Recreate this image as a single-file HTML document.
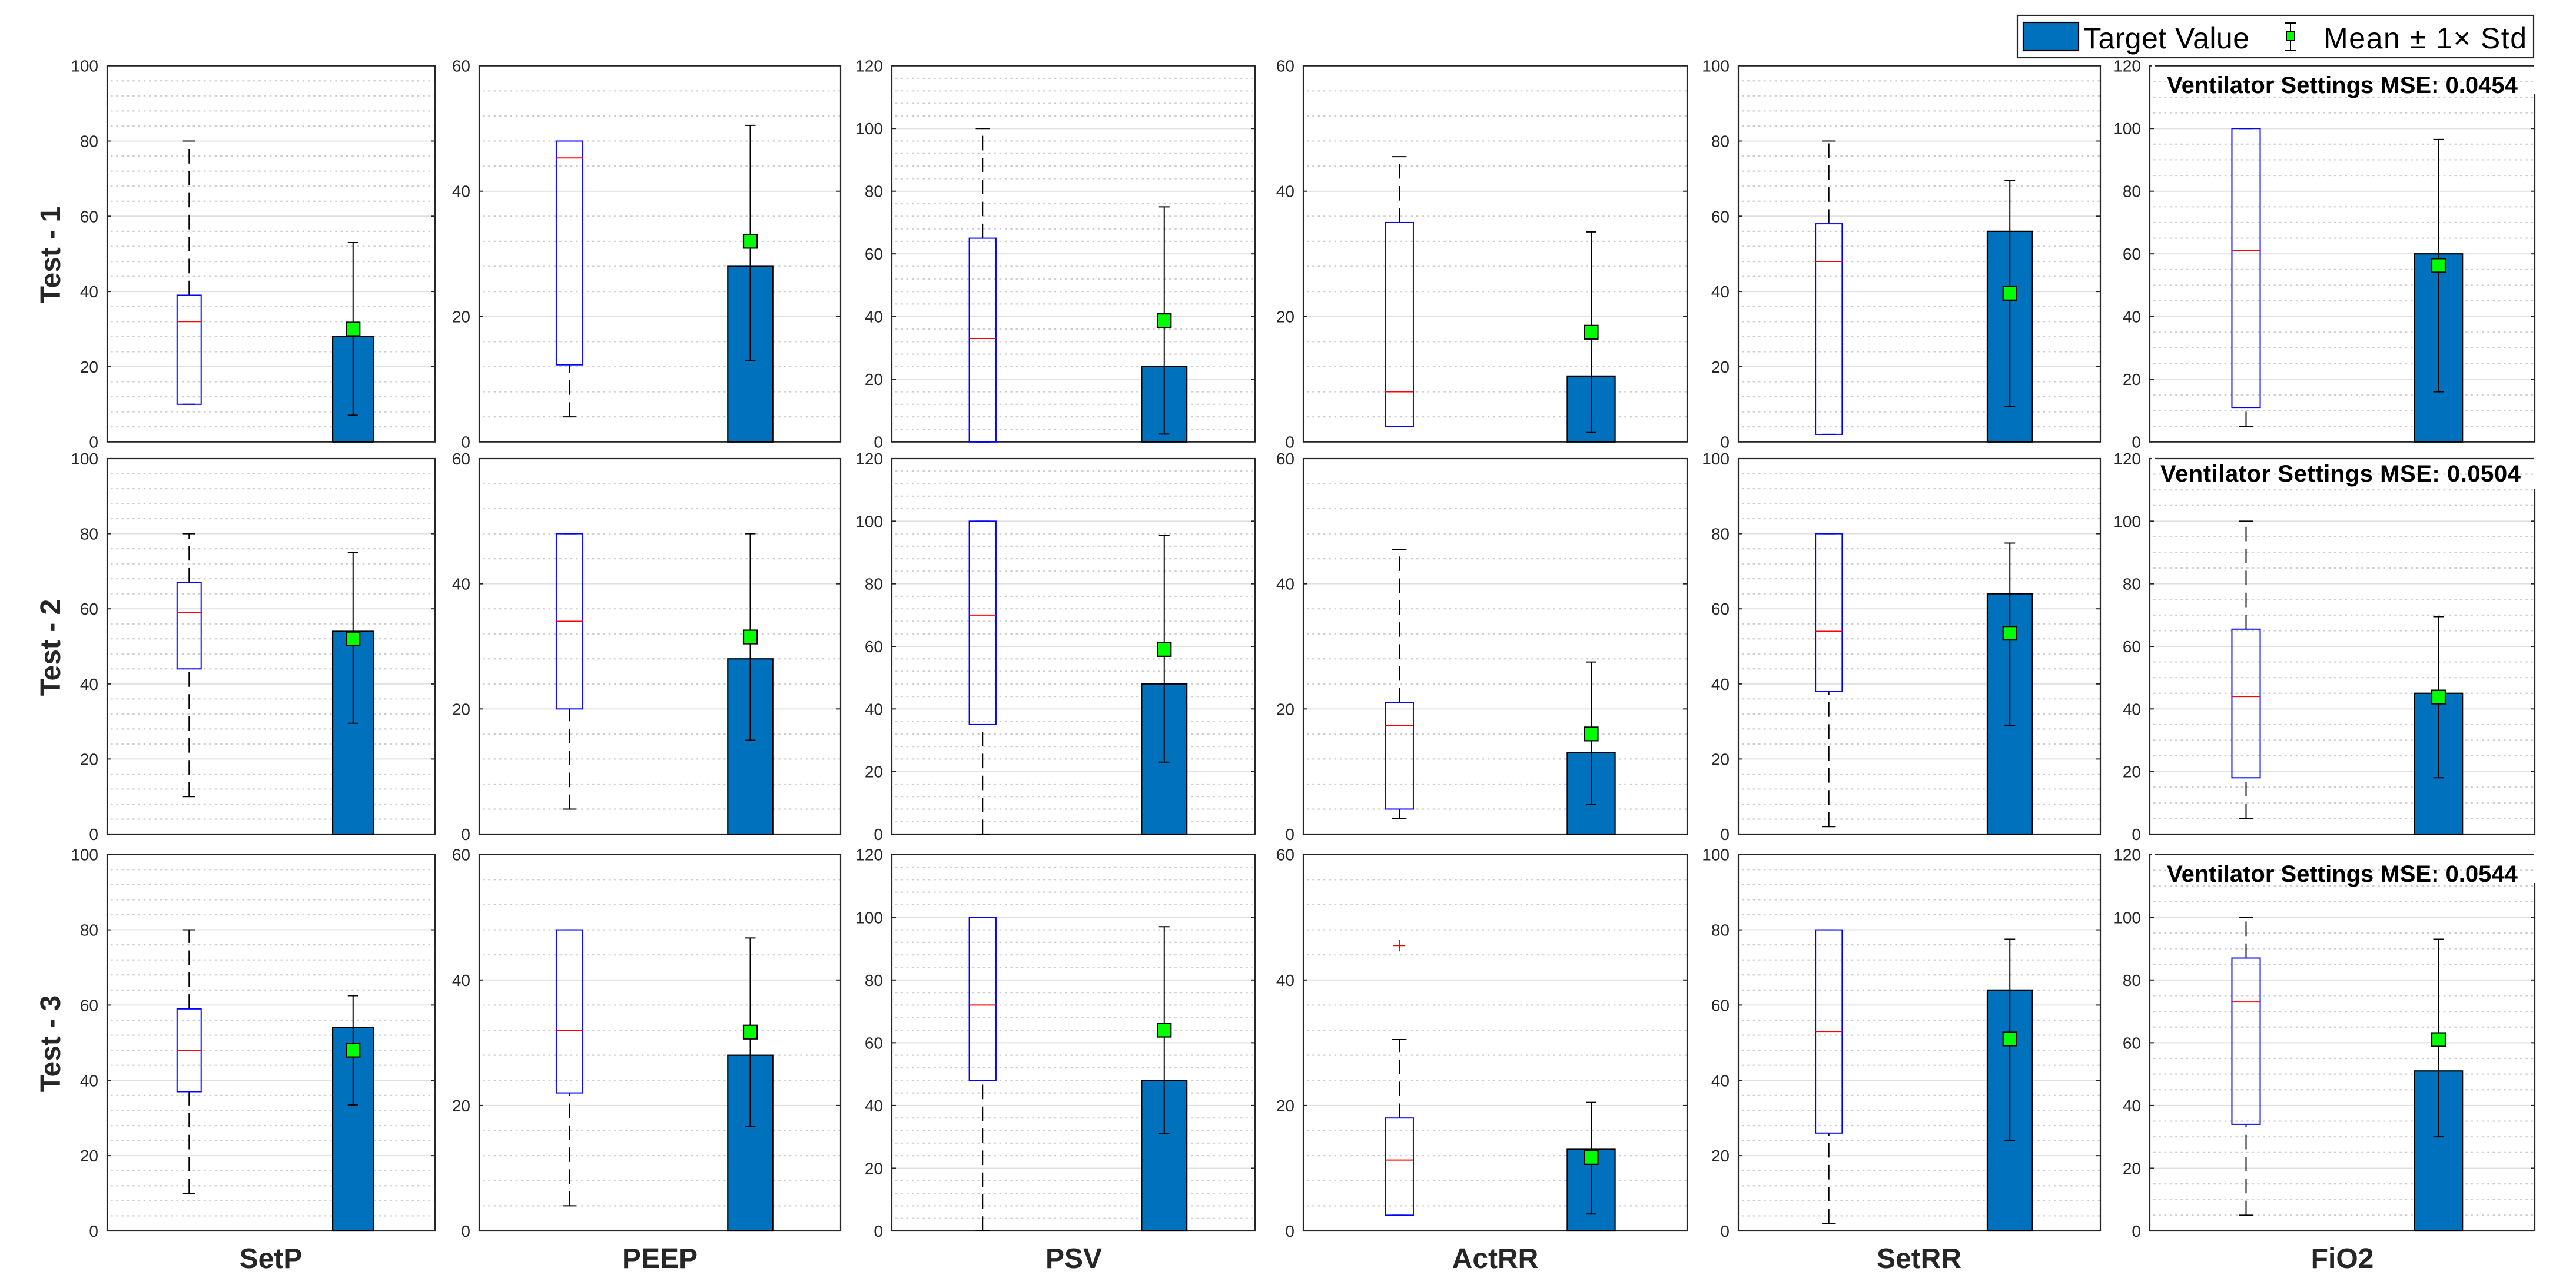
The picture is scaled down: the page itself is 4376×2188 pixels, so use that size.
<!DOCTYPE html>
<html lang="en">
<head>
<meta charset="utf-8">
<title>Ventilator Settings Box Plots</title>
<style>
html,body{margin:0;padding:0;background:#fff;}
svg{display:block;font-family:"Liberation Sans",sans-serif;}
.tick{font-size:28px;fill:#262626;}
.bold{font-size:48px;font-weight:bold;fill:#262626;}
.mse{font-size:40px;font-weight:bold;fill:#000;}
.leg{font-size:50px;fill:#000;}
</style>
</head>
<body>
<svg id="chart" xmlns="http://www.w3.org/2000/svg" width="4376" height="2188" viewBox="0 0 4376 2188">
  <rect x="0" y="0" width="4376" height="2188" fill="#ffffff"/>
  <g id="plots"></g>

  <text class="bold" transform="translate(102,433) rotate(-90)" text-anchor="middle">Test - 1</text>
  <text class="bold" transform="translate(102,1100) rotate(-90)" text-anchor="middle">Test - 2</text>
  <text class="bold" transform="translate(102,1773) rotate(-90)" text-anchor="middle">Test - 3</text>

  <text class="bold" x="460" y="2154" text-anchor="middle">SetP</text>
  <text class="bold" x="1121" y="2154" text-anchor="middle">PEEP</text>
  <text class="bold" x="1824" y="2154" text-anchor="middle">PSV</text>
  <text class="bold" x="2540" y="2154" text-anchor="middle">ActRR</text>
  <text class="bold" x="3260" y="2154" text-anchor="middle">SetRR</text>
  <text class="bold" x="3979" y="2154" text-anchor="middle">FiO2</text>

  <g>
    <line x1="4306" y1="110" x2="4306" y2="160" stroke="#fff" stroke-width="4"/>
    <line x1="3655" y1="111.7" x2="3660" y2="111.7" stroke="#fff" stroke-width="4"/>
    <text class="mse" x="3979" y="158" text-anchor="middle">Ventilator Settings MSE: 0.0454</text>
  </g>
  <g>
    <line x1="4306" y1="777" x2="4306" y2="830" stroke="#fff" stroke-width="4"/>
    <line x1="3655" y1="779" x2="3660" y2="779" stroke="#fff" stroke-width="4"/>
    <text class="mse" x="3976" y="818" text-anchor="middle" textLength="612">Ventilator Settings MSE: 0.0504</text>
  </g>
  <g>
    <line x1="4306" y1="1450" x2="4306" y2="1500" stroke="#fff" stroke-width="4"/>
    <line x1="3655" y1="1451.7" x2="3660" y2="1451.7" stroke="#fff" stroke-width="4"/>
    <text class="mse" x="3979" y="1498" text-anchor="middle">Ventilator Settings MSE: 0.0544</text>
  </g>

  <g>
    <rect x="3427" y="26" width="877" height="72" fill="#fff" stroke="#262626" stroke-width="2.2"/>
    <rect x="3437" y="38" width="94" height="48" fill="#0072BD" stroke="#000" stroke-width="2.2"/>
    <text class="leg" x="3539" y="82" textLength="282">Target Value</text>
    <line x1="3891" y1="39" x2="3891" y2="86" stroke="#000" stroke-width="2"/>
    <line x1="3882" y1="39" x2="3900" y2="39" stroke="#000" stroke-width="2"/>
    <line x1="3882" y1="86" x2="3900" y2="86" stroke="#000" stroke-width="2"/>
    <rect x="3884" y="54" width="14" height="15" fill="#00ff00" stroke="#000" stroke-width="2"/>
    <text class="leg" x="3947" y="82" textLength="345">Mean ± 1× Std</text>
  </g>
</svg>

<script>
// Chart data: one row per test (Test 1, 2, 3), one entry per setting
const settings = ['SetP', 'PEEP', 'PSV', 'ActRR', 'SetRR', 'FiO2'];
const tests = ['Test-1', 'Test-2', 'Test-3'];
const yMax = [100, 60, 120, 60, 100, 120];
const yTickLabels = [
  [0, 20, 40, 60, 80, 100],
  [0, 20, 40, 60],
  [0, 20, 40, 60, 80, 100, 120],
  [0, 20, 40, 60],
  [0, 20, 40, 60, 80, 100],
  [0, 20, 40, 60, 80, 100, 120]
];
const minorStep = [4, 4, 4, 4, 4, 5];

const whiskerLow = [
  [10, 4, 0, 2.5, 2, 5],
  [10, 4, 0, 2.5, 2, 5],
  [10, 4, 0, 2.5, 2, 5]
];
const boxQ1 = [
  [10, 12.3, 0, 2.5, 2, 11],
  [44, 20, 35, 4, 38, 18],
  [37, 22, 48, 2.5, 26, 34]
];
const boxMedian = [
  [32, 45.3, 33, 8, 48, 61],
  [59, 34, 70, 17.3, 54, 44],
  [48, 32, 72, 11.3, 53, 73]
];
const boxQ3 = [
  [39, 48, 65, 35, 58, 100],
  [67, 48, 100, 21, 80, 65.5],
  [59, 48, 100, 18, 80, 87]
];
const whiskerHigh = [
  [80, 48, 100, 45.5, 80, 100],
  [80, 48, 100, 45.5, 80, 100],
  [80, 48, 100, 30.5, 80, 100]
];
const outlierTest = [2];
const outlierSetting = [3];
const outlierValue = [45.5];

const targetValue = [
  [28, 28, 24, 10.5, 56, 60],
  [54, 28, 48, 13, 64, 45],
  [54, 28, 48, 13, 64, 51]
];
const meanValue = [
  [30, 32, 38.7, 17.5, 39.5, 56.3],
  [52, 31.5, 59, 16, 53.5, 43.8],
  [48, 31.7, 64, 11.7, 51, 61]
];
const stdHigh = [
  [53, 50.5, 75, 33.5, 69.5, 96.5],
  [75, 48, 95.5, 27.5, 77.5, 69.5],
  [62.5, 46.7, 97, 20.5, 77.5, 93]
];
const stdLow = [
  [7.1, 13, 2.5, 1.5, 9.5, 16],
  [29.5, 15, 23, 4.8, 29, 18],
  [33.5, 16.7, 31, 2.7, 24, 30]
];

// Layout (separate from data)
const axisLeft = [182, 814, 1515, 2214, 2953, 3652];
const axisRight = [739, 1428, 2132, 2866, 3568, 4306];
const axisTop = [111.7, 779, 1451.7];
const axisBottom = [750.7, 1417, 2091];

const NS = 'http://www.w3.org/2000/svg';
const root = document.getElementById('plots');

function xScale(col, frac) {
  return axisLeft[col] + frac * (axisRight[col] - axisLeft[col]);
}
function yScale(row, col, v) {
  return axisBottom[row] - (v / yMax[col]) * (axisBottom[row] - axisTop[row]);
}
function make(parent, tag, props) {
  const el = document.createElementNS(NS, tag);
  for (const k in props) el.setAttribute(k, props[k]);
  parent.appendChild(el);
  return el;
}
function seg(parent, x1, y1, x2, y2, stroke, w, extra) {
  return make(parent, 'line', Object.assign({x1: x1, y1: y1, x2: x2, y2: y2, stroke: stroke, 'stroke-width': w}, extra || {}));
}

tests.forEach(function (test, r) {
  settings.forEach(function (setting, c) {
    const L = axisLeft[c], R = axisRight[c], T = axisTop[r], B = axisBottom[r];
    const g = make(root, 'g', {});
    
    

    // minor grid
    for (let v = minorStep[c]; v < yMax[c]; v += minorStep[c]) {
      if (v % 20 === 0) continue;
      const y = yScale(r, c, v);
      const minor = seg(g, L + 6, y, R - 1, y, '#cccccc', 2.2, {'stroke-dasharray': '3.5 5.8'});
      
      
    }
    // major grid, ticks and labels
    yTickLabels[c].forEach(function (t) {
      const y = yScale(r, c, t);
      if (t !== 0 && t !== yMax[c]) {
        const major = seg(g, L, y, R, y, '#e0e0e0', 2);
        
        
        const tl = seg(g, L, y, L + 7, y, '#262626', 2);
        
        
        const tr = seg(g, R - 7, y, R, y, '#262626', 2);
        
        
      }
      const label = make(g, 'text', {x: L - 15, y: y + 10, 'text-anchor': 'end', 'class': 'tick'});
      label.textContent = String(t);
      
      
    });

    // axes frame
    const frame = make(g, 'rect', {x: L, y: T, width: R - L, height: B - T, fill: 'none', stroke: '#262626', 'stroke-width': 2.2});
    
    

    // target bar
    const bx = xScale(c, 0.75), bw = (R - L) * 0.1245;
    const by = yScale(r, c, targetValue[r][c]);
    const bar = make(g, 'rect', {x: bx - bw / 2, y: by, width: bw, height: B - by, fill: '#0072BD', stroke: '#000', 'stroke-width': 2.2});
    
    

    // box whiskers (both dash patterns run upward)
    const qx = xScale(c, 0.25), qw = (R - L) * 0.0735, capW = (R - L) * 0.038;
    const yQ1 = yScale(r, c, boxQ1[r][c]), yQ3 = yScale(r, c, boxQ3[r][c]);
    const yLo = yScale(r, c, whiskerLow[r][c]), yHi = yScale(r, c, whiskerHigh[r][c]);
    const wHi = seg(g, qx, yQ3, qx, yHi, '#000', 2, {'stroke-dasharray': '24.7 12.6'});
    
    
    const wLo = seg(g, qx, yLo, qx, yQ1, '#000', 2, {'stroke-dasharray': '24.7 12.6'});
    
    
    const cHi = seg(g, qx - capW / 2, yHi, qx + capW / 2, yHi, '#000', 2);
    
    
    const cLo = seg(g, qx - capW / 2, yLo, qx + capW / 2, yLo, '#000', 2);
    
    

    // box
    const box = make(g, 'rect', {x: qx - qw / 2, y: yQ3, width: qw, height: yQ1 - yQ3, fill: 'none', stroke: '#0000ff', 'stroke-width': 2});
    
    
    const yMed = yScale(r, c, boxMedian[r][c]);
    const med = seg(g, qx - qw / 2, yMed, qx + qw / 2, yMed, '#ff0000', 2);
    
    

    // outliers
    outlierValue.forEach(function (val, i) {
      if (outlierTest[i] !== r || outlierSetting[i] !== c) return;
      const oy = yScale(r, c, val);
      const oh = seg(g, qx - 10, oy, qx + 10, oy, '#ff0000', 2);
      
      
      const ov = seg(g, qx, oy - 10, qx, oy + 10, '#ff0000', 2);
      
      
    });

    // mean +/- std
    const yH = yScale(r, c, stdHigh[r][c]), yL = yScale(r, c, stdLow[r][c]), yM = yScale(r, c, meanValue[r][c]);
    const stem = seg(g, bx, yH, bx, yL, '#000', 2);
    
    
    const eHi = seg(g, bx - 9, yH, bx + 9, yH, '#000', 2);
    
    
    const eLo = seg(g, bx - 9, yL, bx + 9, yL, '#000', 2);
    
    
    const mk = make(g, 'rect', {x: bx - 11.5, y: yM - 11.5, width: 23, height: 23, fill: '#00ff00', stroke: '#000', 'stroke-width': 2.2});
    
    
  });
});
</script>
</body>
</html>
